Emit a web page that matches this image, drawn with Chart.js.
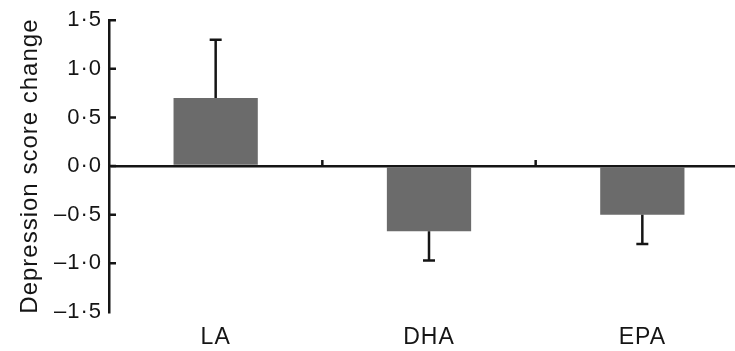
<!DOCTYPE html>
<html>
<head>
<meta charset="utf-8">
<script src="https://cdn.jsdelivr.net/npm/chart.js@4/dist/chart.umd.min.js"></script>
<style>
  html, body { margin: 0; padding: 0; background: #fff; overflow: hidden; }
  #wrap { width: 760px; height: 351px; }
</style>
</head>
<body>
<div id="wrap"><canvas id="chart" width="760" height="351"></canvas></div>
<script>
const categories = ['LA', 'DHA', 'EPA'];
const scoreChange = [0.7, -0.67, -0.5];
const scoreError = [0.6, 0.3, 0.3];
const yTicks = [-1.5, -1.0, -0.5, 0.0, 0.5, 1.0, 1.5];

const inkColor = '#151515';
const barColor = '#6b6b6b';
const fontFamily = "'Liberation Sans', Arial, sans-serif";

// format like the journal figure: middle dot and en dash
function fmtTick(v) {
    return v.toFixed(1).replace('.', '\u00b7').replace('-', '\u2013');
}

// the figure's lettering is a little loose
const tracking = {
    id: 'tracking',
    beforeDraw(chart) {
        chart.ctx.letterSpacing = '1px';
    }
};

// one-sided error bars
const errorBars = {
    id: 'errorBars',
    afterDatasetsDraw(chart) {
        const ctx = chart.ctx;
        const y = chart.scales.y;
        const meta = chart.getDatasetMeta(0);
        ctx.save();
        ctx.strokeStyle = inkColor;
        ctx.lineWidth = 2.5;
        meta.data.forEach((bar, i) => {
            const v = scoreChange[i];
            const end = v >= 0 ? v + scoreError[i] : v - scoreError[i];
            const y0 = y.getPixelForValue(v);
            const y1 = y.getPixelForValue(end);
            ctx.beginPath();
            ctx.moveTo(bar.x, y0);
            ctx.lineTo(bar.x, y1);
            ctx.moveTo(bar.x - 6, y1);
            ctx.lineTo(bar.x + 6, y1);
            ctx.stroke();
        });
        ctx.restore();
    }
};

// inward ticks on the y axis, upward ticks between categories on the zero line
const axisTicks = {
    id: 'axisTicks',
    afterDraw(chart) {
        const ctx = chart.ctx;
        const x = chart.scales.x;
        const y = chart.scales.y;
        const left = chart.chartArea.left;
        const zero = y.getPixelForValue(0);
        ctx.save();
        ctx.strokeStyle = inkColor;
        ctx.lineWidth = 2.5;
        ctx.beginPath();
        yTicks.forEach(t => {
            if (t === -1.5) return;
            const py = y.getPixelForValue(t);
            ctx.moveTo(left, py);
            ctx.lineTo(left + 7, py);
        });
        for (let i = 0; i < categories.length - 1; i++) {
            const px = (x.getPixelForTick(i) + x.getPixelForTick(i + 1)) / 2;
            ctx.moveTo(px, zero);
            ctx.lineTo(px, zero - 6);
        }
        ctx.stroke();
        ctx.restore();
    }
};

new Chart(document.getElementById('chart'), {
    type: 'bar',
    data: {
        labels: categories,
        datasets: [{
            data: scoreChange,
            backgroundColor: barColor,
            borderWidth: 0,
            categoryPercentage: 1,
            barPercentage: 0.395
        }]
    },
    options: {
        responsive: false,
        animation: false,
        events: [],
        layout: { padding: { top: 17, right: 11, bottom: 0, left: 0 } },
        plugins: {
            legend: { display: false },
            tooltip: { enabled: false }
        },
        scales: {
            x: {
                grid: { display: false },
                border: { display: false },
                ticks: {
                    color: inkColor,
                    padding: 4,
                    font: { family: fontFamily, size: 23 }
                },
                afterFit(scale) { scale.height = 39; }
            },
            y: {
                min: -1.5,
                max: 1.5,
                afterBuildTicks(scale) {
                    scale.ticks = yTicks.map(v => ({ value: v }));
                },
                grid: {
                    drawTicks: false,
                    lineWidth: 2.5,
                    color: c => (c.tick && c.tick.value === 0 ? inkColor : 'transparent')
                },
                border: { display: true, color: inkColor, width: 2.5 },
                ticks: {
                    color: inkColor,
                    padding: 7,
                    font: { family: fontFamily, size: 22 },
                    callback: v => fmtTick(v)
                },
                title: {
                    display: true,
                    text: 'Depression score change',
                    color: inkColor,
                    padding: { top: 16, bottom: 0 },
                    font: { family: fontFamily, size: 24 }
                },
                afterFit(scale) { scale.width = 109; }
            }
        }
    },
    plugins: [tracking, errorBars, axisTicks]
});
</script>
</body>
</html>
